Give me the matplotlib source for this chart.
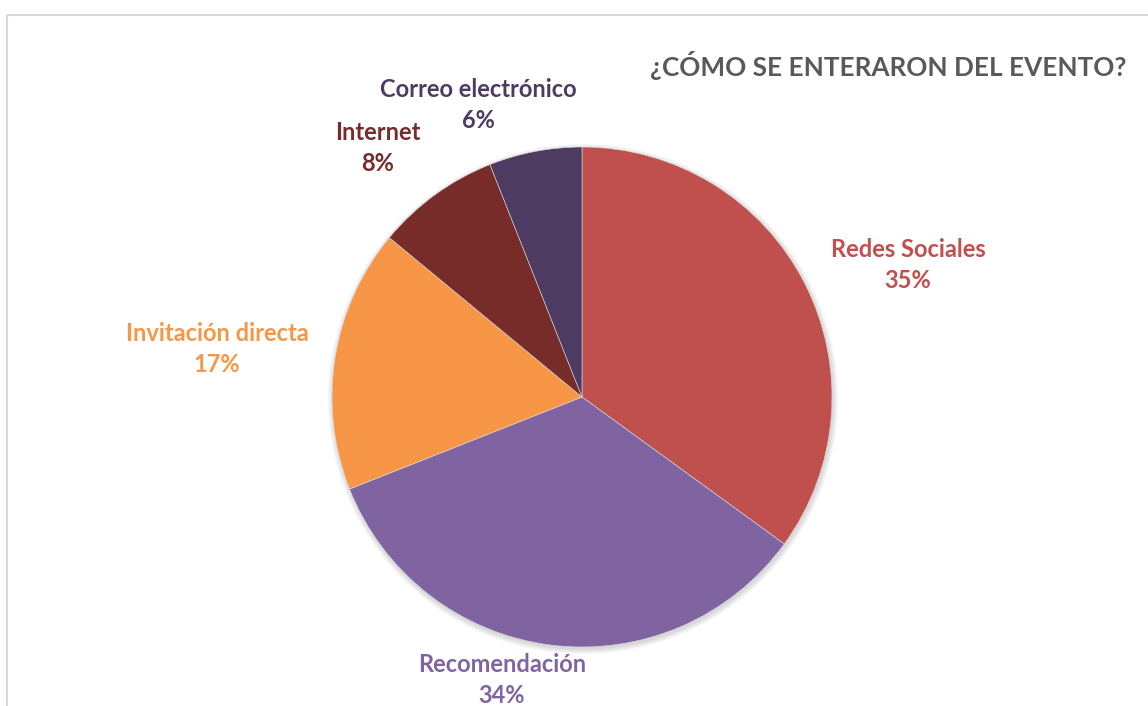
import matplotlib.pyplot as plt
from matplotlib.patches import Rectangle, Circle

# Datos del gráfico
categorias = ["Redes Sociales", "Recomendación", "Invitación directa", "Internet", "Correo electrónico"]
porcentajes = [35, 34, 17, 8, 6]
colores = ["#C0504D", "#8064A2", "#F79646", "#772C2A", "#4D3B62"]
titulo = "¿CÓMO SE ENTERARON DEL EVENTO?"

# Posiciones de las etiquetas (píxeles de la figura)
pos_etiquetas = [(908, 265), (502, 680), (217, 349), (378, 148), (478, 105)]

plt.rcParams['font.family'] = ['Lato', 'DejaVu Sans']

fig = plt.figure(figsize=(11.48, 7.06), dpi=100)
ax = fig.add_axes([0, 0, 1, 1])

centro = (582, 397)
radio = 250

# Marco del gráfico
ax.add_patch(Rectangle((7, 15), 1160, 720, fill=False, edgecolor="#D9D9D9", linewidth=1.5))

# Sombra suave alrededor del pastel
for i in range(4):
    ax.add_patch(Circle((centro[0] + 1, centro[1] + 2), radio + 5 - i * 1.5, color="black", alpha=0.04, lw=0))

# eje y invertido: el sentido horario visual es antihorario en datos
ax.pie(porcentajes, colors=colores, startangle=-90, counterclock=True,
       center=centro, radius=radio, wedgeprops=dict(linewidth=0.4, edgecolor="#DDDDDD"),
       frame=True)
ax.set_xlim(0, 1148)
ax.set_ylim(706, 0)
ax.set_aspect('equal')
ax.axis('off')

for cat, pct, col, (x, y) in zip(categorias, porcentajes, colores, pos_etiquetas):
    ax.text(x, y, f"{cat}\n{pct}%", color=col, fontsize=17, fontweight='bold',
            ha='center', va='center', linespacing=1.4)

ax.text(650, 66, titulo, color="#595959", fontsize=18.8, fontweight='bold', ha='left', va='center')

fig.savefig("out.png", dpi=100)
